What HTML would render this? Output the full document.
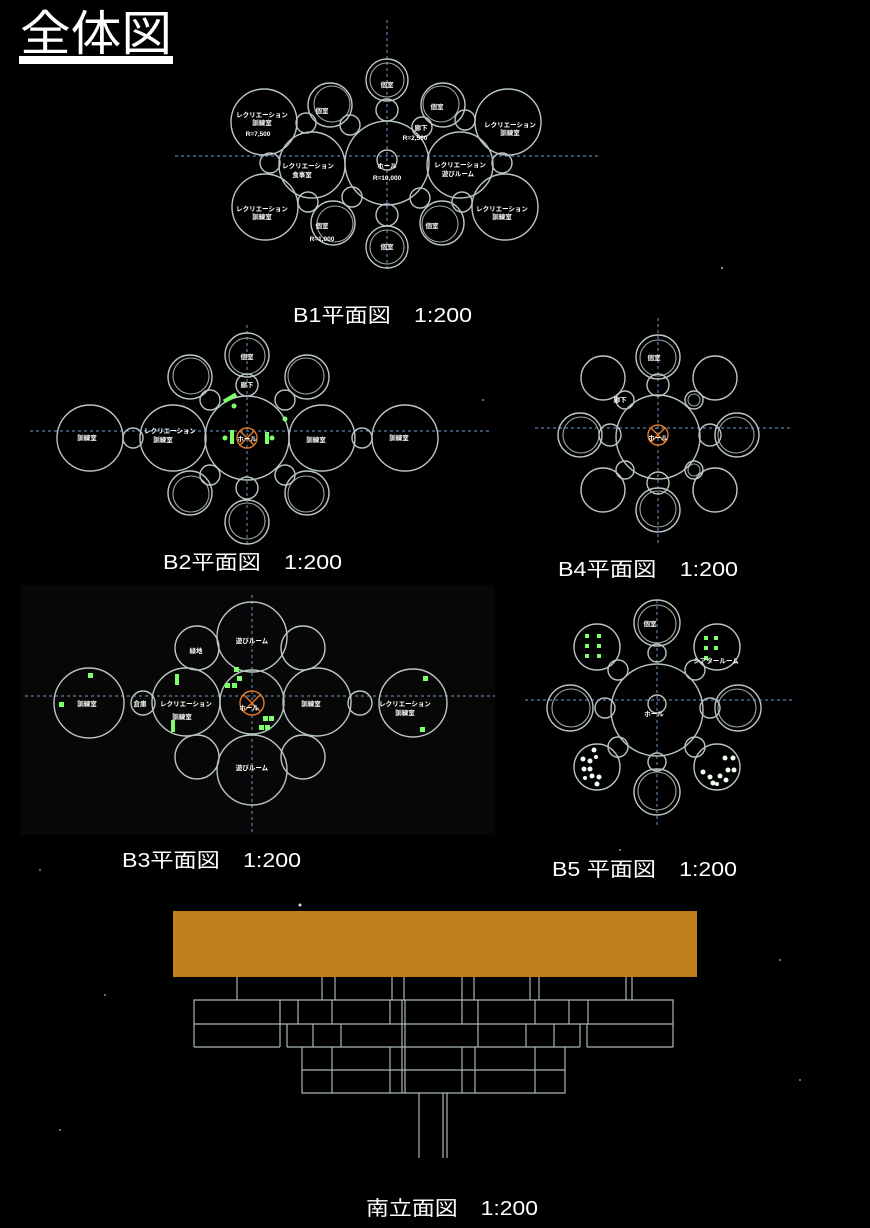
<!DOCTYPE html>
<html><head><meta charset="utf-8"><style>
html,body{margin:0;padding:0;background:#000;}
svg{display:block}
.c{fill:none;stroke:#b9c6c2;stroke-width:1.4}
.i{fill:none;stroke:#b9c6c2;stroke-width:1.1;opacity:.85}
.ax{stroke:#5d7fa8;stroke-width:1.2;stroke-dasharray:3 3}
.t{fill:#fff;font-family:"Liberation Sans","Noto Sans CJK JP",sans-serif;font-size:6.5px;font-weight:bold;text-anchor:middle}
.L{fill:#fff;font-family:"Liberation Sans","Noto Sans CJK JP",sans-serif;font-size:20px}
.g{fill:#7dff6a}
.e{stroke:#aab8b4;stroke-width:1.2;fill:none}
.o{fill:none;stroke:#e07a2a;stroke-width:1.4}
</style></head><body>
<svg width="870" height="1228" viewBox="0 0 870 1228" xmlns="http://www.w3.org/2000/svg">
<rect width="870" height="1228" fill="#000"/>
<rect x="20" y="585" width="475" height="250" fill="#070707"/>
<!-- stars -->
<g fill="#888">
<circle cx="722" cy="268" r="1.2"/><circle cx="483" cy="400" r="1"/><circle cx="300" cy="905" r="1.5" fill="#ddd"/><circle cx="105" cy="995" r="1"/><circle cx="800" cy="1080" r="1"/><circle cx="60" cy="1130" r="1"/><circle cx="620" cy="850" r="1"/><circle cx="40" cy="870" r="1"/><circle cx="780" cy="960" r="1"/>
</g>
<!-- Title -->
<text x="20" y="50" fill="#fff" font-family="Liberation Sans,Noto Sans CJK JP,sans-serif" font-size="48" textLength="152" lengthAdjust="spacingAndGlyphs">全体図</text>
<rect x="19" y="56" width="154" height="8" fill="#fff"/>

<!-- B1 -->
<line class="ax" x1="387" y1="20" x2="387" y2="270"/>
<line class="ax" x1="175" y1="156" x2="600" y2="156"/>
<g>
<circle class="c" cx="387" cy="163" r="42"/>
<circle class="c" cx="387" cy="160" r="10"/>
<circle class="c" cx="312" cy="165" r="33"/>
<circle class="c" cx="460" cy="165" r="33"/>
<circle class="c" cx="264" cy="122" r="33"/>
<circle class="c" cx="265" cy="207" r="33"/>
<circle class="c" cx="508" cy="122" r="33"/>
<circle class="c" cx="505" cy="207" r="33"/>
<circle class="c" cx="270" cy="163" r="10"/>
<circle class="c" cx="502" cy="163" r="10"/>
<circle class="c" cx="387" cy="80" r="21"/><circle class="i" cx="387" cy="80" r="17"/>
<circle class="c" cx="387" cy="110" r="11"/>
<circle class="c" cx="387" cy="247" r="21"/><circle class="i" cx="387" cy="247" r="17"/>
<circle class="c" cx="387" cy="215" r="11"/>
<circle class="c" cx="330" cy="105" r="22"/><circle class="i" cx="332" cy="104" r="18"/>
<circle class="c" cx="333" cy="223" r="22"/><circle class="i" cx="335" cy="224" r="18"/>
<circle class="c" cx="443" cy="105" r="22"/><circle class="i" cx="441" cy="104" r="18"/>
<circle class="c" cx="442" cy="223" r="22"/><circle class="i" cx="440" cy="224" r="18"/>
<circle class="c" cx="306" cy="123" r="10"/><circle class="c" cx="350" cy="125" r="10"/>
<circle class="c" cx="422" cy="127" r="10"/><circle class="c" cx="465" cy="120" r="10"/>
<circle class="c" cx="308" cy="202" r="10"/><circle class="c" cx="352" cy="197" r="10"/>
<circle class="c" cx="420" cy="198" r="10"/><circle class="c" cx="462" cy="202" r="10"/>
</g>
<text class="t" x="387" y="87">個室</text>
<text class="t" x="322" y="113">個室</text>
<text class="t" x="437" y="109">個室</text>
<text class="t" x="421" y="130">廊下</text>
<text class="t" x="415" y="140">R=2,500</text>
<text class="t" x="262" y="117">レクリエーション</text>
<text class="t" x="262" y="125">訓練室</text>
<text class="t" x="258" y="136">R=7,500</text>
<text class="t" x="510" y="127">レクリエーション</text>
<text class="t" x="510" y="135">訓練室</text>
<text class="t" x="308" y="168">レクリエーション</text>
<text class="t" x="302" y="177">食事室</text>
<text class="t" x="387" y="168">ホール</text>
<text class="t" x="387" y="180">R=10,000</text>
<text class="t" x="460" y="167">レクリエーション</text>
<text class="t" x="458" y="176">遊びルーム</text>
<text class="t" x="262" y="211">レクリエーション</text>
<text class="t" x="262" y="219">訓練室</text>
<text class="t" x="502" y="211">レクリエーション</text>
<text class="t" x="502" y="219">訓練室</text>
<text class="t" x="322" y="228">個室</text>
<text class="t" x="322" y="241">R=1,000</text>
<text class="t" x="432" y="228">個室</text>
<text class="t" x="387" y="249">個室</text>
<text class="L" x="293" y="322" textLength="179" lengthAdjust="spacingAndGlyphs">B1平面図　1:200</text>

<!-- B2 -->
<line class="ax" x1="247" y1="325" x2="247" y2="545"/>
<line class="ax" x1="30" y1="431" x2="492" y2="431"/>
<circle class="c" cx="247" cy="438" r="42"/>
<circle class="c" cx="90" cy="438" r="33"/><circle class="c" cx="173" cy="438" r="33"/>
<circle class="c" cx="322" cy="438" r="33"/><circle class="c" cx="405" cy="438" r="33"/>
<circle class="c" cx="133" cy="438" r="10"/><circle class="c" cx="362" cy="438" r="10"/>
<circle class="c" cx="247" cy="355" r="22"/><circle class="i" cx="247" cy="356" r="18"/>
<circle class="c" cx="247" cy="385" r="11"/>
<circle class="c" cx="247" cy="522" r="22"/><circle class="i" cx="247" cy="521" r="18"/>
<circle class="c" cx="247" cy="488" r="11"/>
<circle class="c" cx="190" cy="377" r="22"/><circle class="i" cx="191" cy="376" r="18"/>
<circle class="c" cx="307" cy="377" r="22"/><circle class="i" cx="306" cy="376" r="18"/>
<circle class="c" cx="190" cy="493" r="22"/><circle class="i" cx="191" cy="494" r="18"/>
<circle class="c" cx="307" cy="493" r="22"/><circle class="i" cx="306" cy="494" r="18"/>
<circle class="c" cx="210" cy="400" r="10"/><circle class="c" cx="285" cy="400" r="10"/>
<circle class="c" cx="210" cy="475" r="10"/><circle class="c" cx="285" cy="475" r="10"/>
<circle class="o" cx="247" cy="438" r="10"/>
<line class="o" x1="240" y1="431" x2="254" y2="445"/><line class="o" x1="254" y1="431" x2="240" y2="445"/>
<rect class="g" x="230" y="430" width="4" height="14"/><rect class="g" x="265" y="432" width="4" height="12"/>
<rect class="g" x="223" y="396" width="14" height="4" transform="rotate(-30 230 398)"/>
<circle class="g" cx="234" cy="406" r="2.5"/><circle class="g" cx="225" cy="438" r="2.5"/><circle class="g" cx="272" cy="438" r="2.5"/><circle class="g" cx="285" cy="419" r="2.5"/>
<text class="t" x="247" y="359">個室</text>
<text class="t" x="247" y="387">廊下</text>
<text class="t" x="87" y="440">訓練室</text>
<text class="t" x="170" y="433">レクリエーション</text>
<text class="t" x="163" y="442">訓練室</text>
<text class="t" x="247" y="441">ホール</text>
<text class="t" x="316" y="442">訓練室</text>
<text class="t" x="399" y="440">訓練室</text>
<text class="L" x="163" y="569" textLength="179" lengthAdjust="spacingAndGlyphs">B2平面図　1:200</text>

<!-- B4 -->
<line class="ax" x1="658" y1="318" x2="658" y2="545"/>
<line class="ax" x1="535" y1="428" x2="790" y2="428"/>
<circle class="c" cx="658" cy="437" r="42"/>
<circle class="c" cx="658" cy="357" r="22"/><circle class="i" cx="658" cy="358" r="18"/>
<circle class="c" cx="658" cy="385" r="11"/>
<circle class="c" cx="658" cy="510" r="22"/><circle class="i" cx="658" cy="509" r="18"/>
<circle class="c" cx="658" cy="483" r="11"/>
<circle class="c" cx="580" cy="435" r="22"/><circle class="i" cx="581" cy="435" r="18"/>
<circle class="c" cx="610" cy="435" r="11"/>
<circle class="c" cx="737" cy="435" r="22"/><circle class="i" cx="736" cy="435" r="18"/>
<circle class="c" cx="710" cy="435" r="11"/>
<circle class="c" cx="603" cy="378" r="22"/><circle class="c" cx="625" cy="400" r="9"/>
<circle class="c" cx="715" cy="378" r="22"/><circle class="c" cx="694" cy="400" r="9"/><circle class="i" cx="694" cy="400" r="6"/>
<circle class="c" cx="603" cy="490" r="22"/><circle class="c" cx="625" cy="470" r="9"/>
<circle class="c" cx="715" cy="490" r="22"/><circle class="c" cx="694" cy="470" r="9"/><circle class="i" cx="694" cy="470" r="6"/>
<circle class="o" cx="658" cy="435" r="10"/>
<line class="o" x1="651" y1="428" x2="665" y2="442"/><line class="o" x1="665" y1="428" x2="651" y2="442"/>
<text class="t" x="654" y="360">個室</text>
<text class="t" x="620" y="402">廊下</text>
<text class="t" x="658" y="440">ホール</text>
<text class="L" x="558" y="576" textLength="180" lengthAdjust="spacingAndGlyphs">B4平面図　1:200</text>

<!-- B3 -->
<line class="ax" x1="252" y1="595" x2="252" y2="835"/>
<line class="ax" x1="25" y1="696" x2="495" y2="696"/>
<circle class="c" cx="252" cy="702" r="32"/>
<circle class="c" cx="252" cy="637" r="35"/><circle class="c" cx="252" cy="770" r="35"/>
<circle class="c" cx="186" cy="702" r="34"/><circle class="c" cx="317" cy="702" r="34"/>
<circle class="c" cx="89" cy="703" r="35"/><circle class="c" cx="413" cy="703" r="34"/>
<circle class="c" cx="143" cy="703" r="12"/><circle class="c" cx="360" cy="703" r="12"/>
<circle class="c" cx="197" cy="648" r="22"/><circle class="c" cx="303" cy="648" r="22"/>
<circle class="c" cx="197" cy="757" r="22"/><circle class="c" cx="303" cy="757" r="22"/>
<circle class="o" cx="252" cy="703" r="12"/>
<line class="o" x1="244" y1="695" x2="260" y2="711"/><line class="o" x1="260" y1="695" x2="244" y2="711"/>
<g class="g">
<rect x="175" y="674" width="4" height="11"/><rect x="171" y="720" width="4" height="12"/>
<rect x="88" y="673" width="5" height="5"/><rect x="59" y="702" width="5" height="5"/>
<rect x="423" y="676" width="5" height="5"/><rect x="420" y="727" width="5" height="5"/>
<rect x="225" y="683" width="5" height="5"/><rect x="232" y="683" width="5" height="5"/>
<rect x="237" y="676" width="5" height="5"/><rect x="234" y="667" width="5" height="5"/>
<rect x="263" y="716" width="5" height="5"/><rect x="269" y="716" width="5" height="5"/>
<rect x="259" y="725" width="5" height="5"/><rect x="265" y="725" width="5" height="5"/>
</g>
<text class="t" x="252" y="643">遊びルーム</text>
<text class="t" x="196" y="653">緑地</text>
<text class="t" x="87" y="706">訓練室</text>
<text class="t" x="140" y="706">倉庫</text>
<text class="t" x="186" y="706">レクリエーション</text>
<text class="t" x="182" y="719">訓練室</text>
<text class="t" x="249" y="710">ホール</text>
<text class="t" x="311" y="706">訓練室</text>
<text class="t" x="405" y="706">レクリエーション</text>
<text class="t" x="405" y="715">訓練室</text>
<text class="t" x="252" y="770">遊びルーム</text>
<text class="L" x="122" y="867" textLength="179" lengthAdjust="spacingAndGlyphs">B3平面図　1:200</text>

<!-- B5 -->
<line class="ax" x1="657" y1="600" x2="657" y2="825"/>
<line class="ax" x1="525" y1="700" x2="795" y2="700"/>
<circle class="c" cx="657" cy="710" r="46"/>
<circle class="c" cx="657" cy="704" r="9"/>
<circle class="c" cx="657" cy="623" r="23"/><circle class="i" cx="657" cy="624" r="19"/>
<circle class="c" cx="657" cy="653" r="9"/>
<circle class="c" cx="657" cy="792" r="23"/><circle class="i" cx="657" cy="791" r="19"/>
<circle class="c" cx="657" cy="762" r="9"/>
<circle class="c" cx="570" cy="708" r="23"/><circle class="i" cx="571" cy="708" r="19"/>
<circle class="c" cx="605" cy="708" r="10"/>
<circle class="c" cx="738" cy="708" r="23"/><circle class="i" cx="737" cy="708" r="19"/>
<circle class="c" cx="710" cy="708" r="10"/>
<circle class="c" cx="597" cy="647" r="23"/><circle class="c" cx="618" cy="670" r="10"/>
<circle class="c" cx="717" cy="647" r="23"/><circle class="c" cx="695" cy="670" r="10"/>
<circle class="c" cx="597" cy="767" r="23"/><circle class="c" cx="618" cy="747" r="10"/>
<circle class="c" cx="717" cy="767" r="23"/><circle class="c" cx="695" cy="747" r="10"/>
<g class="g">
<rect x="585" y="634" width="4" height="4"/><rect x="597" y="634" width="4" height="4"/>
<rect x="585" y="644" width="4" height="4"/><rect x="597" y="644" width="4" height="4"/>
<rect x="585" y="654" width="4" height="4"/><rect x="597" y="654" width="4" height="4"/>
<rect x="704" y="636" width="4" height="4"/><rect x="714" y="636" width="4" height="4"/>
<rect x="704" y="646" width="4" height="4"/><rect x="714" y="646" width="4" height="4"/>
<rect x="704" y="656" width="4" height="4"/>
</g>
<g fill="#f0fff0">
<circle cx="594" cy="750" r="2.5"/><circle cx="583" cy="759" r="2.5"/><circle cx="590" cy="761" r="2.5"/><circle cx="596" cy="757" r="2"/>
<circle cx="584" cy="769" r="2.5"/><circle cx="590" cy="769" r="2.5"/><circle cx="592" cy="776" r="2.5"/><circle cx="599" cy="777" r="2.5"/><circle cx="597" cy="784" r="2.5"/><circle cx="585" cy="778" r="2"/>
<circle cx="725" cy="758" r="2.5"/><circle cx="733" cy="758" r="2.5"/><circle cx="728" cy="770" r="2.5"/><circle cx="734" cy="770" r="2.5"/>
<circle cx="703" cy="772" r="2.5"/><circle cx="710" cy="777" r="2.5"/><circle cx="713" cy="783" r="2.5"/><circle cx="720" cy="776" r="2.5"/><circle cx="726" cy="780" r="2.5"/><circle cx="717" cy="784" r="2"/>
</g>
<text class="t" x="650" y="626">個室</text>
<text class="t" x="716" y="663">シアタールーム</text>
<text class="t" x="654" y="716">ホール</text>
<text class="L" x="552" y="876" textLength="185" lengthAdjust="spacingAndGlyphs">B5 平面図　1:200</text>

<!-- Elevation -->
<rect x="173" y="911" width="524" height="66" fill="#c17f1e"/>
<g class="e">
<line x1="237" y1="977" x2="237" y2="1000"/><line x1="322" y1="977" x2="322" y2="1000"/><line x1="335" y1="977" x2="335" y2="1000"/>
<line x1="392" y1="977" x2="392" y2="1000"/><line x1="404" y1="977" x2="404" y2="1000"/>
<line x1="462" y1="977" x2="462" y2="1000"/><line x1="474" y1="977" x2="474" y2="1000"/>
<line x1="530" y1="977" x2="530" y2="1000"/><line x1="539" y1="977" x2="539" y2="1000"/>
<line x1="626" y1="977" x2="626" y2="1000"/><line x1="632" y1="977" x2="632" y2="1000"/>
<polyline points="194,1047 194,1000 673,1000 673,1047"/>
<line x1="194" y1="1024" x2="673" y2="1024"/>
<line x1="194" y1="1047" x2="280" y2="1047"/><line x1="587" y1="1047" x2="673" y2="1047"/>
<line x1="280" y1="1000" x2="280" y2="1047"/><line x1="587" y1="1024" x2="587" y2="1047"/><line x1="588" y1="1000" x2="588" y2="1024"/>
<line x1="287" y1="1024" x2="287" y2="1047"/><line x1="580" y1="1024" x2="580" y2="1047"/>
<line x1="298" y1="1000" x2="298" y2="1024"/><line x1="332" y1="1000" x2="332" y2="1024"/>
<line x1="390" y1="1000" x2="390" y2="1024"/><line x1="402" y1="1000" x2="402" y2="1047"/><line x1="405" y1="1000" x2="405" y2="1047"/>
<line x1="462" y1="1000" x2="462" y2="1024"/><line x1="478" y1="1000" x2="478" y2="1047"/>
<line x1="535" y1="1000" x2="535" y2="1024"/><line x1="569" y1="1000" x2="569" y2="1024"/>
<line x1="313" y1="1024" x2="313" y2="1047"/><line x1="341" y1="1024" x2="341" y2="1047"/>
<line x1="526" y1="1024" x2="526" y2="1047"/><line x1="554" y1="1024" x2="554" y2="1047"/>
<line x1="287" y1="1047" x2="580" y2="1047"/>
<polyline points="302,1047 302,1093 565,1093 565,1047"/>
<line x1="302" y1="1070" x2="565" y2="1070"/>
<line x1="332" y1="1047" x2="332" y2="1093"/><line x1="390" y1="1047" x2="390" y2="1093"/>
<line x1="402" y1="1047" x2="402" y2="1093"/><line x1="405" y1="1047" x2="405" y2="1093"/>
<line x1="462" y1="1047" x2="462" y2="1093"/><line x1="475" y1="1047" x2="475" y2="1093"/>
<line x1="535" y1="1047" x2="535" y2="1093"/>
<line x1="419" y1="1093" x2="419" y2="1158"/><line x1="443" y1="1093" x2="443" y2="1158"/><line x1="447" y1="1093" x2="447" y2="1158"/>
</g>
<text class="L" x="366" y="1215" textLength="172" lengthAdjust="spacingAndGlyphs">南立面図　1:200</text>
</svg>
</body></html>
